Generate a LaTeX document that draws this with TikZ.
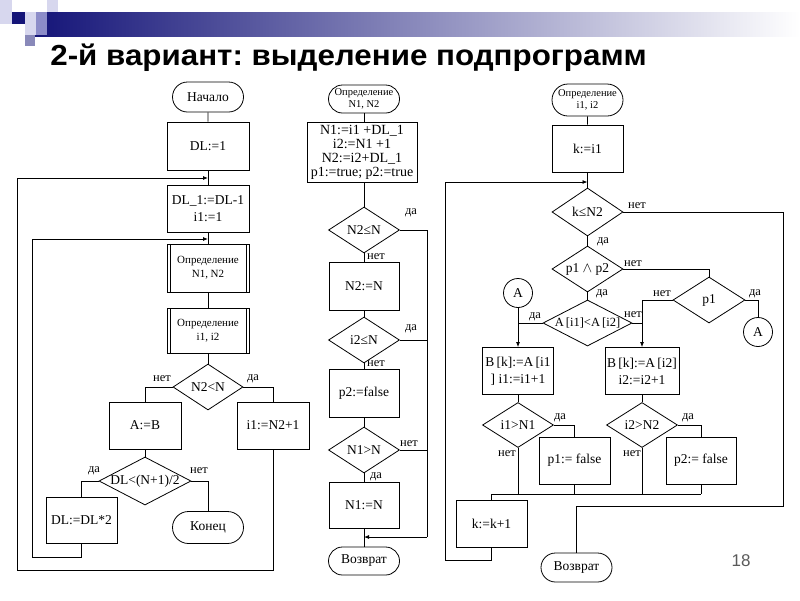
\documentclass[tikz,border=0pt]{standalone}
\usepackage{fontspec}
\setmainfont{Liberation Serif}
\newfontfamily\titlefont{Liberation Sans}
\usetikzlibrary{shapes.geometric,shapes.misc,arrows.meta}
\newcommand\zw[1]{\makebox[0pt][c]{#1}}
\definecolor{hdark}{RGB}{20,20,120}
\definecolor{hmid}{RGB}{140,140,200}
\definecolor{hlight}{RGB}{215,215,238}
\definecolor{pgnum}{RGB}{90,90,90}
\frenchspacing
\begin{document}
\frenchspacing
\begin{tikzpicture}[x=1pt,y=-1pt,line width=0.8pt,
  font=\fontsize{13.5}{17}\selectfont,
  bx/.style={draw,rectangle,inner sep=1pt,align=center,minimum width=71,minimum height=47},
  sub/.style={bx,path picture={
     \draw ([xshift=3pt]path picture bounding box.north west) -- ([xshift=3pt]path picture bounding box.south west)
           ([xshift=-3pt]path picture bounding box.north east) -- ([xshift=-3pt]path picture bounding box.south east);}},
  term/.style={draw,rounded rectangle,inner sep=0pt,align=center,minimum width=71,minimum height=30},
  dia/.style={draw,diamond,inner sep=0pt,minimum width=71,minimum height=46},
  conn/.style={draw,circle,inner sep=0pt,minimum size=29},
  lab/.style={inner sep=0pt,font=\fontsize{12.5}{12.5}\selectfont},
  small/.style={font=\fontsize{10.5}{11.5}\selectfont},
  subf/.style={font=\fontsize{11}{14}\selectfont},
  arr/.style={-{Latex[length=5pt,width=4pt]}}]
\useasboundingbox (0,0) rectangle (800,600);

% header
\shade[left color=hdark,right color=white] (32,12) rectangle (800,36);
\fill[hlight] (0,0) rectangle (12,12);
\fill[hlight] (0,12) rectangle (12,24);
\fill[hdark] (12,12) rectangle (25,24);
\fill[hlight] (25,12) rectangle (36,24);
\fill[hmid] (36,12) rectangle (47,24);
\fill[hlight] (47,0) rectangle (58,12);
\fill[hlight] (25,24) rectangle (36,35);
\fill[hmid] (36,24) rectangle (47,35);
\fill[hmid!80!gray] (25,35) rectangle (35,46);
\node[anchor=base west,inner sep=0pt,font=\titlefont\bfseries\fontsize{29}{29}\selectfont] (title) at (50,65) {\scalebox{1.08}[1]{2-й вариант: выделение подпрограмм}};

% left column
\node[term] (ls) at (208,97) {Начало};
\node[bx,minimum width=82,minimum height=48] (l1) at (208,146) {DL:=1};
\node[bx,minimum width=82,minimum height=47] (l2) at (208,208.5) {DL\_1:=DL-1\\i1:=1};
\node[sub,subf,minimum width=82,minimum height=48] (l3) at (208,268) {Определение\\N1, N2};
\node[sub,subf,minimum width=82,minimum height=45] (l4) at (208,330.5) {Определение\\i1, i2};
\node[dia,minimum width=70] (l5) at (208,387) {\zw{N2<N}};
\node[bx,minimum width=72] (l6) at (145,425.5) {A:=B};
\node[bx,minimum width=72] (l7) at (273,425.5) {i1:=N2+1};
\node[dia,minimum width=92,minimum height=48] (l8) at (145,481) {\zw{DL<(N+1)/2}};
\node[bx,minimum height=46] (l9) at (81.5,520) {DL:=DL*2};
\node[term,minimum height=32] (le) at (208,527.5) {Конец};

\coordinate (la0) at (208,178);
\coordinate (la1) at (208,239);
\coordinate (lo) at (17,570);
\coordinate (li) at (32,557);

\draw (ls) -- (l1);
\draw (l1) -- (l2);
\draw (l2) -- (l3);
\draw (l3) -- (l4);
\draw (l4) -- (l5);
\draw (l5.west) -| (l6.north);
\draw (l5.east) -| (l7.north);
\draw (l6) -- (l8);
\draw (l8.west) -| (l9.north);
\draw (l8.east) -| (le.north);
\draw[arr] (l9.south) |- (li) |- (la1);
\draw[arr] (l7.south) |- (lo) |- (la0);

\node[lab] (t1) at (162,379) {нет};
\node[lab] (t2) at (253,379) {да};
\node[lab] (t3) at (94,471) {да};
\node[lab] (t4) at (199,471) {нет};

% middle column
\node[term,small,minimum height=28] (ms) at (364,99) {Определение\\N1, N2};
\node[bx,font=\fontsize{14}{14}\selectfont,minimum width=110,minimum height=60] (m1) at (362,152) {N1:=i1 +DL\_1\\i2:=N1 +1\\N2:=i2+DL\_1\\p1:=true; p2:=true};
\node[dia] (m2) at (364,230) {\zw{N2≤N}};
\node[bx,minimum width=70,minimum height=48] (m3) at (364,286) {N2:=N};
\node[dia] (m4) at (364,340) {\zw{i2≤N}};
\node[bx,minimum width=70,minimum height=48] (m5) at (364,393) {p2:=false};
\node[dia] (m6) at (364,450) {\zw{N1>N}};
\node[bx,minimum width=70,minimum height=46] (m7) at (364,505) {N1:=N};
\node[term,minimum height=28] (me) at (364,561) {Возврат};

\coordinate (mr) at (427,537);
\coordinate (mj) at (364,537);

\draw (ms.south) -- (ms.south |- m1.north);
\draw (m1.south -| m2.north) -- (m2.north);
\draw (m2) -- (m3);
\draw (m3) -- (m4);
\draw (m4) -- (m5);
\draw (m5) -- (m6);
\draw (m6) -- (m7);
\draw (m7) -- (me);
\draw (m2.east) -| (mr);
\draw (m4.east) -- (m4.east -| mr);
\draw (m6.east) -- (m6.east -| mr);
\draw[arr] (mr) -- (mj);

\node[lab] (t5) at (411,213) {да};
\node[lab] (t6) at (376,257) {нет};
\node[lab] (t7) at (411,329) {да};
\node[lab] (t8) at (376,364) {нет};
\node[lab] (t9) at (409,444) {нет};
\node[lab] (t10) at (376,477) {да};

% right column
\node[term,small,minimum height=32] (rs) at (587.5,100) {Определение\\i1, i2};
\node[bx] (r1) at (587.5,148.5) {k:=i1};
\node[dia,minimum height=48] (r2) at (587.5,212) {\zw{k≤N2}};
\node[dia] (r3) at (587.5,269) {\zw{p1 $\wedge$ p2}};
\node[dia,minimum width=89] (r4) at (587.5,323) {\zw{\fontsize{12.5}{12.5}\selectfont A\,[i1]<A\,[i2]}};
\node[dia,minimum width=72] (r5) at (709,300) {\zw{p1}};
\node[conn] (rA1) at (518,293) {A};
\node[conn] (rA2) at (758,332) {A};
\node[bx] (r6) at (518,371) {B\,[k]:=A\,[i1\\] i1:=i1+1};
\node[bx,minimum width=74] (r7) at (642,371) {B\,[k]:=A\,[i2]\\i2:=i2+1};
\node[dia,minimum height=45] (r8) at (518,425) {\zw{i1>N1}};
\node[dia,minimum height=45] (r9) at (642,425) {\zw{i2>N2}};
\node[bx] (r10) at (574.5,460.5) {p1:= false};
\node[bx,minimum width=70] (r11) at (701,460.5) {p2:= false};
\node[bx] (r12) at (491.5,523.5) {k:=k+1};
\node[term,minimum height=29] (re) at (576.5,567.5) {Возврат};

\coordinate (rj) at (701,494);
\coordinate (rr) at (783,506);
\coordinate (rlb) at (445,560);
\coordinate (rla) at (587.5,182);

\draw (rs) -- (r1);
\draw (r1) -- (r2);
\draw (r2) -- (r3);
\draw (r3) -- (r4);
\draw (r2.east) -| (rr) -| (re.north);
\draw (r3.east) -| (r5.north);
\draw (r5.east) -| (rA2.north);
\draw[arr] (r5.west) -| (r7.north);
\draw (r4.east) -- (r4.east -| r7.north);
\draw[arr] (r4.west) -| (r6.north);
\draw (rA1.south) -- (rA1.south |- r4.west);
\draw (r6) -- (r8);
\draw (r7) -- (r9);
\draw (r8.east) -| (r10.north);
\draw (r9.east) -| (r11.north);
\draw (r12.north) |- (rj);
\draw (r8.south) -- (r8.south |- rj);
\draw (r9.south) -- (r9.south |- rj);
\draw (r10.south) -- (r10.south |- rj);
\draw (r11.south) -- (rj);
\draw[arr] (r12.south) |- (rlb) |- (rla);

\node[lab] (t11) at (637,206) {нет};
\node[lab] (t12) at (603,242) {да};
\node[lab] (t13) at (633,264) {нет};
\node[lab] (t14) at (602,294) {да};
\node[lab] (t15) at (662,294) {нет};
\node[lab] (t16) at (755,294) {да};
\node[lab] (t17) at (535,317) {да};
\node[lab] (t18) at (633,315) {нет};
\node[lab] (t19) at (560,418) {да};
\node[lab] (t20) at (507,454) {нет};
\node[lab] (t21) at (688,418) {да};
\node[lab] (t22) at (632,454) {нет};

\node[font=\titlefont\fontsize{17}{17}\selectfont,text=pgnum,inner sep=0pt] (pg) at (741,561) {18};
\end{tikzpicture}
\end{document}
